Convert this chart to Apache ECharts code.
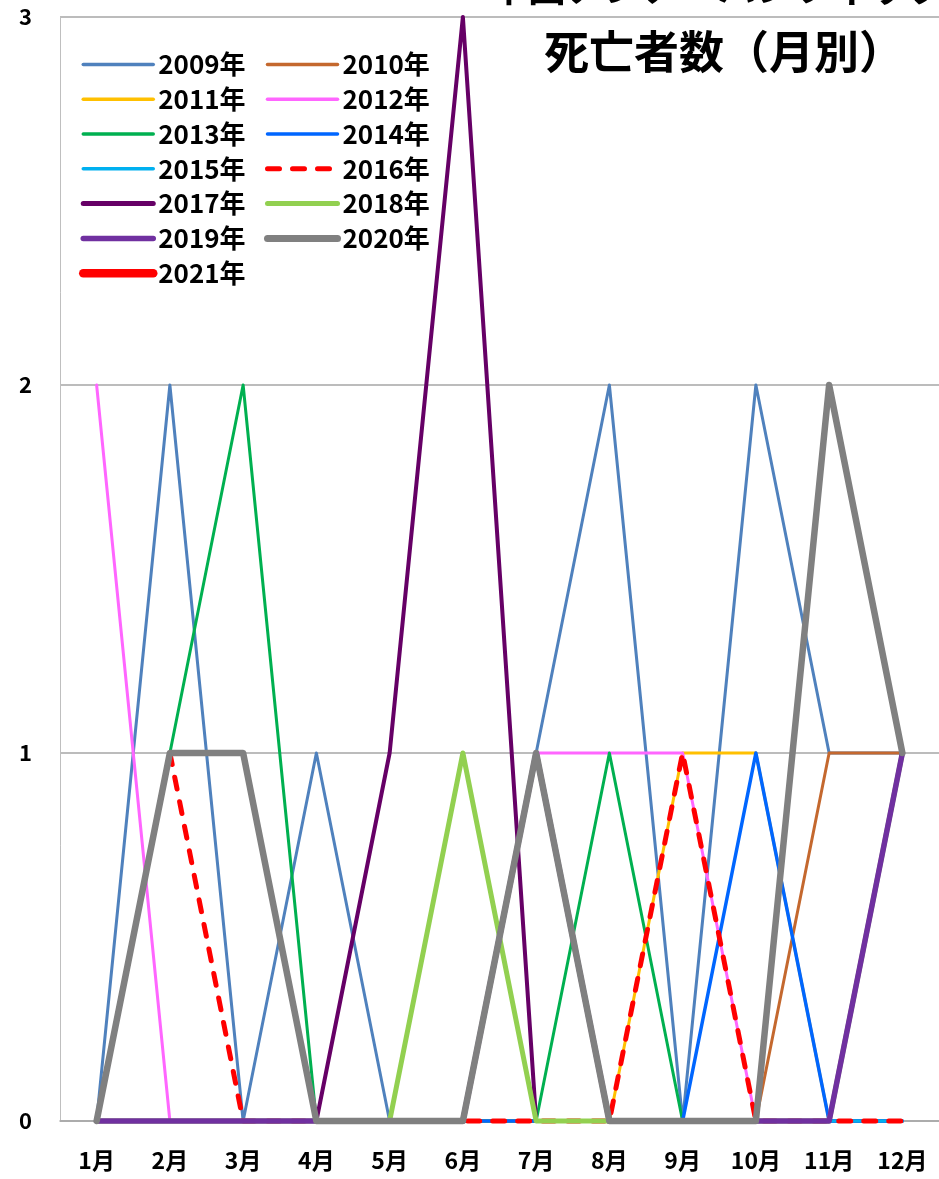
<!DOCTYPE html>
<html><head><meta charset="utf-8">
<script src="https://cdn.jsdelivr.net/npm/echarts@6/dist/echarts.min.js"></script>
<style>html,body{margin:0;padding:0;background:#fff}#c{width:939px;height:1179px}</style>
</head><body><div id="c"></div>
<script>
const months = ['1月','2月','3月','4月','5月','6月','7月','8月','9月','10月','11月','12月'];
const yTicks = [0, 1, 2, 3];
const titleLine1 = '中国アジア・パシフィック';
const titleLine2 = '死亡者数（月別）';
const seriesNames = ['2009年','2010年','2011年','2012年','2013年','2014年','2015年','2016年','2017年','2018年','2019年','2020年','2021年'];
const y2009 = [0,2,0,1,0,0,1,2,0,2,1,1];
const y2010 = [0,0,0,0,0,0,0,0,0,0,1,1];
const y2011 = [0,0,0,0,0,0,0,0,1,1,0,0];
const y2012 = [2,0,0,0,0,0,1,1,1,0,0,0];
const y2013 = [0,1,2,0,0,0,0,1,0,0,0,0];
const y2014 = [0,0,0,0,0,0,0,0,0,1,0,0];
const y2015 = [0,0,0,0,0,0,1,0,0,0,0,0];
const y2016 = [0,1,0,0,0,0,0,0,1,0,0,0];
const y2017 = [0,0,0,0,1,3,0,0,0,0,0,1];
const y2018 = [0,0,0,0,0,1,0,0,0,0,0,1];
const y2019 = [0,0,0,0,0,0,1,0,0,0,0,1];
const y2020 = [0,1,1,0,0,0,1,0,0,0,2,1];
const y2021 = [null,null,null,null,null,null,null,null,null,null,null,null];
const seriesValues = [y2009,y2010,y2011,y2012,y2013,y2014,y2015,y2016,y2017,y2018,y2019,y2020,y2021];

const looks = [
  {color:'#4F81BD', width:3},
  {color:'#C4682E', width:3},
  {color:'#FFC000', width:3},
  {color:'#FF66FF', width:3},
  {color:'#00B050', width:3},
  {color:'#0066FF', width:3.5},
  {color:'#00B0F0', width:3},
  {color:'#FF0000', width:5, type:[12,13]},
  {color:'#660066', width:4},
  {color:'#92D050', width:5},
  {color:'#7030A0', width:5.5},
  {color:'#808080', width:6.5},
  {color:'#FF0000', width:8.5}
];
const legendWidths = [3.5,3.5,3.5,3.5,3.5,3.5,3.5,5,5,5,5.5,7,8.5];
const FONT = '"Noto Sans CJK JP", "Noto Sans", sans-serif';

const chart = echarts.init(document.getElementById('c'), null, {renderer:'canvas'});
const series = seriesNames.map((n, i) => ({
  name: n,
  type: 'line',
  data: seriesValues[i],
  symbol: 'none',
  showSymbol: false,
  clip: false,
  connectNulls: false,
  lineStyle: {color: looks[i].color, width: looks[i].width, type: looks[i].type || 'solid', cap: 'round', join: 'round'},
  itemStyle: {color: looks[i].color},
  emphasis: {disabled: true},
  z: 2
}));
const legendItem = (n, i) => ({
  name: n,
  itemStyle: {color: 'rgba(0,0,0,0)', borderColor: 'rgba(0,0,0,0)', borderWidth: 0, opacity: 0},
  lineStyle: {color: looks[i].color, width: legendWidths[i], type: looks[i].type || 'solid', cap: 'round', opacity: 1}
});
const legendText = {fontSize: 26, fontWeight: 'bold', color: '#000', fontFamily: FONT, lineHeight: 34.8};
const legendBase = {orient: 'vertical', top: 47, padding: 0, itemGap: 0, itemWidth: 70, itemHeight: 10,
  textStyle: legendText, selectedMode: false};
chart.setOption({
  animation: false,
  backgroundColor: '#fff',
  title: [
    {text: titleLine1, left: 490, top: -32, padding: 0, textStyle: {fontSize: 38, fontWeight: 'bold', color: '#000', fontFamily: FONT}},
    {text: titleLine2, left: 544, top: 29, padding: 0, textStyle: {fontSize: 45, fontWeight: 'bold', color: '#000', fontFamily: FONT}}
  ],
  legend: [
    Object.assign({left: 79, data: seriesNames.map(legendItem).filter((_, i) => i % 2 === 0)}, legendBase),
    Object.assign({left: 264, data: seriesNames.map(legendItem).filter((_, i) => i % 2 === 1)}, legendBase)
  ],
  grid: {left: 60, right: -4, top: 17, bottom: 58},
  xAxis: {
    type: 'category', data: months, boundaryGap: true,
    axisTick: {show: false},
    axisLine: {show: true, lineStyle: {color: '#A6A6A6', width: 1.5}},
    axisLabel: {interval: 0, margin: 28, fontSize: 23, fontWeight: 'bold', color: '#000', fontFamily: FONT},
    splitLine: {show: false}
  },
  yAxis: {
    type: 'value', min: yTicks[0], max: yTicks[yTicks.length - 1], interval: 1,
    axisLine: {show: true, lineStyle: {color: '#BFBFBF', width: 1}},
    axisTick: {show: false},
    axisLabel: {margin: 28, fontSize: 22, fontWeight: 'bold', color: '#000', fontFamily: FONT},
    splitLine: {show: true, lineStyle: {color: '#A6A6A6', width: 1.5}}
  },
  series: series
});
</script></body></html>
